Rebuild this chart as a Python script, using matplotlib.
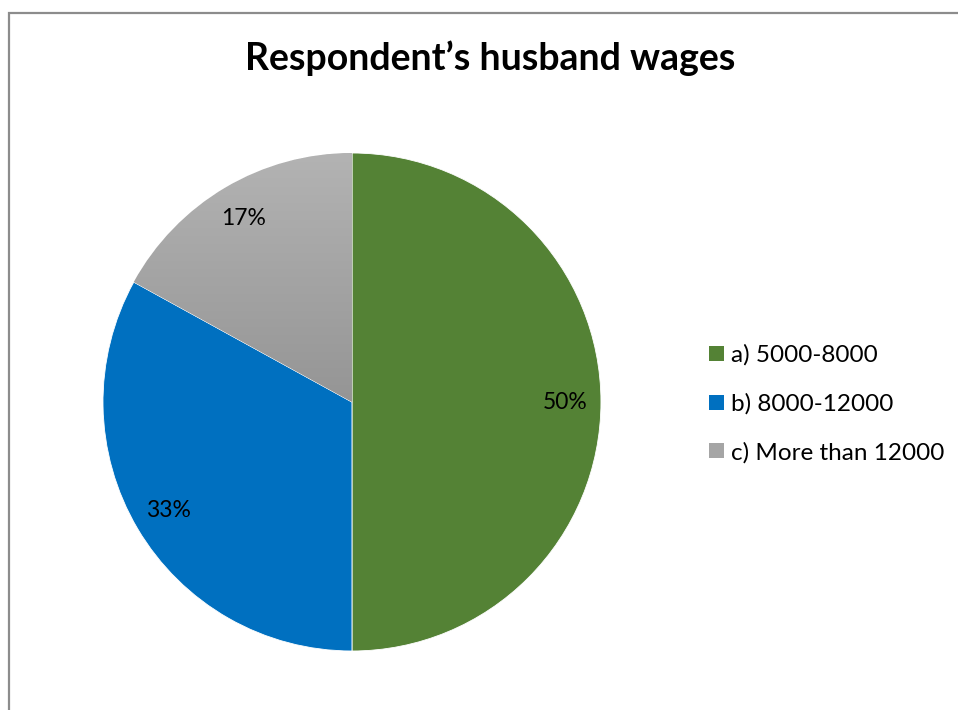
import numpy as np
import matplotlib.pyplot as plt
from matplotlib.patches import Rectangle, Patch
from matplotlib.colors import LinearSegmentedColormap

plt.rcParams['font.family'] = ['Lato', 'DejaVu Sans']

labels = ['a) 5000-8000', 'b) 8000-12000', 'c) More than 12000']
shares = [50, 33, 17]
colors = ['#548235', '#0070c0', '#a5a5a5']

fig = plt.figure(figsize=(9.58, 7.10), dpi=100)
fig.patch.set_facecolor('white')

# chart frame (right and bottom edges run off the canvas)
fig.patches.append(Rectangle((8.5 / 958, -0.05), 1.2, 1 - 12.5 / 710 + 0.05,
                             transform=fig.transFigure, fill=False,
                             edgecolor='#8c8c8c', linewidth=1.6))

fig.text(0.5115, 0.918, 'Respondent\u2019s husband wages', ha='center', va='center',
         fontsize=27, fontweight='bold', color='black')

ax = fig.add_axes([0.1075, 0.0831, 0.5198, 0.7014])
wedges, texts, autotexts = ax.pie(shares, colors=colors, startangle=90,
                                  counterclock=False, radius=1,
                                  autopct=lambda p: '%d%%' % round(p),
                                  pctdistance=0.855,
                                  wedgeprops=dict(linewidth=0.6, edgecolor='white'),
                                  textprops=dict(fontsize=16.5, color='black'))
ax.set_xlim(-1, 1)
ax.set_ylim(-1, 1)
ax.set_aspect('equal')
ax.axis('off')

# soft top-to-bottom shading on the grey slice
gray = wedges[2]
cmap = LinearSegmentedColormap.from_list('shade', ['#b3b3b3', '#959595'])
grad = np.linspace(0, 1, 256).reshape(-1, 1)
img = ax.imshow(grad, cmap=cmap, extent=(-1, 0.05, 0, 1.0), origin='upper',
                aspect='auto', zorder=gray.get_zorder() + 0.1)
img.set_clip_path(gray)
for t in autotexts:
    t.set_zorder(5)

handles = [Patch(facecolor=c, edgecolor='none') for c in colors]
fig.legend(handles, labels, loc='center left', bbox_to_anchor=(0.7405, 0.4310),
           frameon=False, fontsize=17.5, handlelength=0.62, handleheight=0.58,
           handletextpad=0.25, labelspacing=1.12, borderaxespad=0, borderpad=0)

fig.savefig('out.png', dpi=100)
